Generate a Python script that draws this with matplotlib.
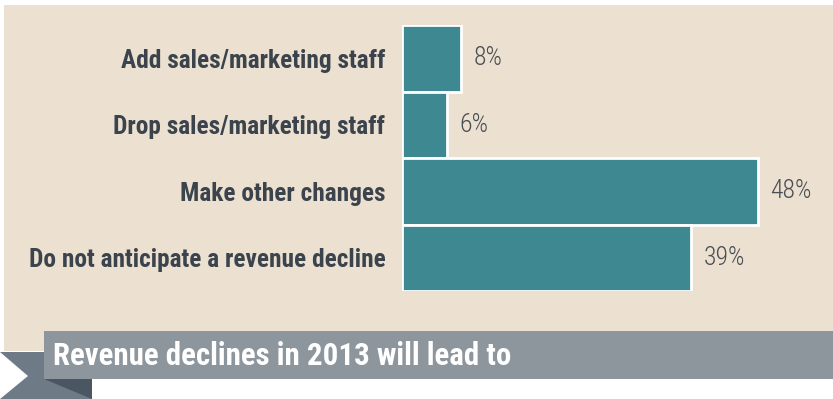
import matplotlib.pyplot as plt
from matplotlib.patches import Rectangle, Polygon

# survey answers, top to bottom
categories = ["Add sales/marketing staff", "Drop sales/marketing staff",
              "Make other changes", "Do not anticipate a revenue decline"]
shares = [8, 6, 48, 39]
value_labels = ["8%", "6%", "48%", "39%"]
title = "Revenue declines in 2013 will lead to"

BEIGE = "#ece0d0"
TEAL = "#3e8991"
BANNER = "#8d959d"
TAIL = "#6e7b86"
FOLD = "#4a5763"
TEXT = "#3b444d"

plt.rcParams["font.family"] = ["Roboto Condensed", "DejaVu Sans"]

W, H = 833, 399
fig = plt.figure(figsize=(W / 100, H / 100), dpi=100)
fig.patch.set_facecolor("white")

# background layer laid out in pixel units
bg = fig.add_axes([0, 0, 1, 1], zorder=0)
bg.set_xlim(0, W)
bg.set_ylim(H, 0)
bg.axis("off")
bg.add_patch(Rectangle((4, 5), W - 4, 346, color=BEIGE, lw=0))
# ribbon tail with notch, then the fold shadow, then the banner
bg.add_patch(Polygon([(0, 352), (92, 352), (92, 399), (0, 399), (28, 376)],
                     closed=True, color=TAIL, lw=0))
bg.add_patch(Polygon([(44, 379), (92, 379), (92, 399)], closed=True, color=FOLD, lw=0))
bg.add_patch(Rectangle((44, 331), W - 44, 48, color=BANNER, lw=0))
bg.text(53, 356, title, color="white", fontsize=22.2, fontweight="bold",
        va="center", ha="left")

# bar chart
ax = fig.add_axes([402 / W, 1 - 291 / H, (W - 402) / W, 266 / H], zorder=1)
ax.patch.set_alpha(0)
px_per_pct = (758 - 402) / 48
ax.set_xlim(0, (W - 402) / px_per_pct)
ypos = list(range(len(categories)))
ax.barh(ypos, shares, height=1.0, color=TEAL, edgecolor="white", linewidth=2)
ax.set_ylim(len(categories) - 0.5, -0.5)
ax.set_yticks(ypos)
ax.set_yticklabels(categories, fontsize=18.3, fontweight="bold", color=TEXT)
ax.tick_params(axis="y", length=0, pad=12)
ax.set_xticks([])
for s in ax.spines.values():
    s.set_visible(False)

for y, v, lab in zip(ypos, shares, value_labels):
    ax.annotate(lab, (v, y), xytext=(9, 0), textcoords="offset points",
                va="center", ha="left", fontsize=18.5, fontweight="light",
                color="#4a4f55")

fig.savefig("out.png", dpi=100)
